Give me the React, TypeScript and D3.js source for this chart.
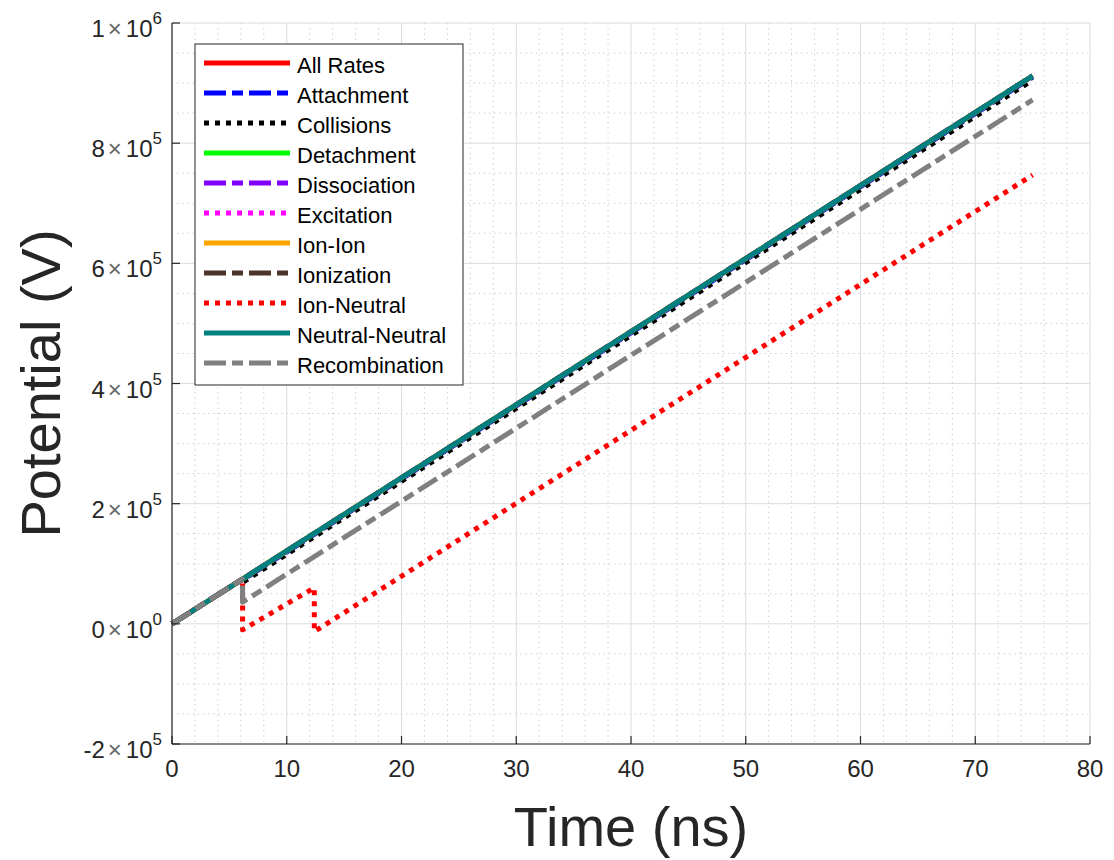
import React from "react";
import * as d3 from "d3";

// Potential vs time for each reaction-rate subset
const seriesNames = [
  "All Rates",
  "Attachment",
  "Collisions",
  "Detachment",
  "Dissociation",
  "Excitation",
  "Ion-Ion",
  "Ionization",
  "Ion-Neutral",
  "Neutral-Neutral",
  "Recombination",
];
const seriesColors = [
  "#ff0000",
  "#0000ff",
  "#000000",
  "#00ff00",
  "#8000ff",
  "#ff00ff",
  "#ffa500",
  "#4d3329",
  "#ff0000",
  "#008080",
  "#808080",
];
const seriesStyles = ["solid", "dashdot", "dot", "solid", "dashdot", "dot", "solid", "dashdot", "dot", "solid", "dashdot"];

// time (ns) vertices and potential (V) values
const tRamp = [0, 6.15, 75];
const tStep = [0, 6.15, 6.15, 75];
const tIonNeutral = [0, 6.15, 6.15, 12.4, 12.4, 75];

const allRatesV = [0, 74500, 912000];
const attachmentV = [0, 74500, 73000, 910000];
const collisionsV = [0, 74500, 69000, 905000];
const detachmentV = [0, 74500, 912000];
const dissociationV = [0, 74500, 912000];
const excitationV = [0, 74500, 912000];
const ionIonV = [0, 74500, 912000];
const ionizationV = [0, 74500, 912000];
const ionNeutralV = [0, 74500, -10000, 60000, -13000, 747000];
const neutralNeutralV = [0, 74500, 912000];
const recombinationV = [0, 74500, 36000, 872000];

const seriesTimes = [tRamp, tStep, tStep, tRamp, tRamp, tRamp, tRamp, tRamp, tIonNeutral, tRamp, tStep];
const seriesValues = [
  allRatesV,
  attachmentV,
  collisionsV,
  detachmentV,
  dissociationV,
  excitationV,
  ionIonV,
  ionizationV,
  ionNeutralV,
  neutralNeutralV,
  recombinationV,
];

const xTicks = [0, 10, 20, 30, 40, 50, 60, 70, 80];
const yTicks = [-200000, 0, 200000, 400000, 600000, 800000, 1000000];
const yTickLabels: [string, string][] = [
  ["-2", "5"],
  ["0", "0"],
  ["2", "5"],
  ["4", "5"],
  ["6", "5"],
  ["8", "5"],
  ["1", "6"],
];

const W = 1114;
const H = 860;
const left = 172;
const right = 1090;
const top = 23;
const bottom = 744;
const font = "'Liberation Sans', Arial, Helvetica, sans-serif";
const axisColor = "#262626";
const lineW = 5;

function dashFor(style: string): string | undefined {
  if (style === "dashdot") return "22,6,11,6";
  if (style === "dot") return "5,6";
  return undefined;
}

export default function App() {
  const x = d3.scaleLinear().domain([0, 80]).range([left, right]);
  const y = d3.scaleLinear().domain([-200000, 1000000]).range([bottom, top]);

  const line = d3
    .line<[number, number]>()
    .x((d) => x(d[0]))
    .y((d) => y(d[1]));

  const minorX = d3.range(0, 81, 2).filter((v) => v % 10 !== 0);
  const minorY = d3.range(-200000, 1000001, 50000).filter((v) => v % 200000 !== 0);

  const legendX = 195;
  const legendY = 44;
  const legendW = 268;
  const legendH = 341;
  const rowH = 30;

  return (
    <svg
      width={W}
      height={H}
      style={{ position: "absolute", left: 0, top: 0, background: "#fff" }}
      fontFamily={font}
    >
      <rect x={0} y={0} width={W} height={H} fill="#ffffff" />
      {/* minor grid */}
      <g stroke="#c4c4c4" strokeWidth={1} strokeDasharray="1.2,4">
        {minorX.map((v) => (
          <line key={"mx" + v} x1={x(v)} x2={x(v)} y1={top} y2={bottom} />
        ))}
        {minorY.map((v) => (
          <line key={"my" + v} x1={left} x2={right} y1={y(v)} y2={y(v)} />
        ))}
      </g>
      {/* major grid */}
      <g stroke="#dcdcdc" strokeWidth={1}>
        {xTicks.map((v) => (
          <line key={"gx" + v} x1={x(v)} x2={x(v)} y1={top} y2={bottom} />
        ))}
        {yTicks.map((v) => (
          <line key={"gy" + v} x1={left} x2={right} y1={y(v)} y2={y(v)} />
        ))}
      </g>

      {/* series */}
      <g fill="none" strokeLinecap="butt" strokeLinejoin="round">
        {seriesNames.map((name, i) => {
          const pts = seriesTimes[i].map((t, k) => [t, seriesValues[i][k]] as [number, number]);
          return (
            <path
              key={name}
              d={line(pts) || ""}
              stroke={seriesColors[i]}
              strokeWidth={lineW}
              strokeDasharray={dashFor(seriesStyles[i])}
            />
          );
        })}
      </g>

      {/* axes */}
      <g stroke={axisColor} strokeWidth={1.2}>
        <line x1={left} x2={left} y1={top} y2={bottom} />
        <line x1={left} x2={right} y1={bottom} y2={bottom} />
        {xTicks.map((v) => (
          <line key={"tx" + v} x1={x(v)} x2={x(v)} y1={bottom} y2={bottom - 8} />
        ))}
        {yTicks.map((v) => (
          <line key={"ty" + v} x1={left} x2={left + 8} y1={y(v)} y2={y(v)} />
        ))}
      </g>

      {/* tick labels */}
      <g fill={axisColor} fontSize={24}>
        {xTicks.map((v) => (
          <text key={"lx" + v} x={x(v)} y={bottom + 33} textAnchor="middle">
            {v}
          </text>
        ))}
        {yTicks.map((v, i) => (
          <text key={"ly" + v} x={left - 10} y={y(v) + 14} textAnchor="end">
            <tspan>{yTickLabels[i][0]}</tspan>
            <tspan fill="#666" dx={3}>×</tspan>
            <tspan dx={4}>10</tspan>
            <tspan fontSize={17} dy={-13}>{yTickLabels[i][1]}</tspan>
          </text>
        ))}
      </g>

      {/* axis titles */}
      <text x={(left + right) / 2} y={846} textAnchor="middle" fontSize={56} fill={axisColor}>
        Time (ns)
      </text>
      <text
        transform={`translate(60, ${(top + bottom) / 2}) rotate(-90)`}
        textAnchor="middle"
        fontSize={56}
        fill={axisColor}
      >
        Potential (V)
      </text>

      {/* legend */}
      <g>
        <rect
          x={legendX}
          y={legendY}
          width={legendW}
          height={legendH}
          fill="#ffffff"
          stroke={axisColor}
          strokeWidth={1}
        />
        {seriesNames.map((name, i) => {
          const cy = legendY + 19 + i * rowH;
          return (
            <g key={"lg" + name}>
              <line
                x1={legendX + 9}
                x2={legendX + 95}
                y1={cy}
                y2={cy}
                stroke={seriesColors[i]}
                strokeWidth={lineW}
                strokeDasharray={dashFor(seriesStyles[i])}
              />
              <text x={legendX + 102} y={cy + 9.5} fontSize={22} fill="#000">
                {name}
              </text>
            </g>
          );
        })}
      </g>
    </svg>
  );
}
